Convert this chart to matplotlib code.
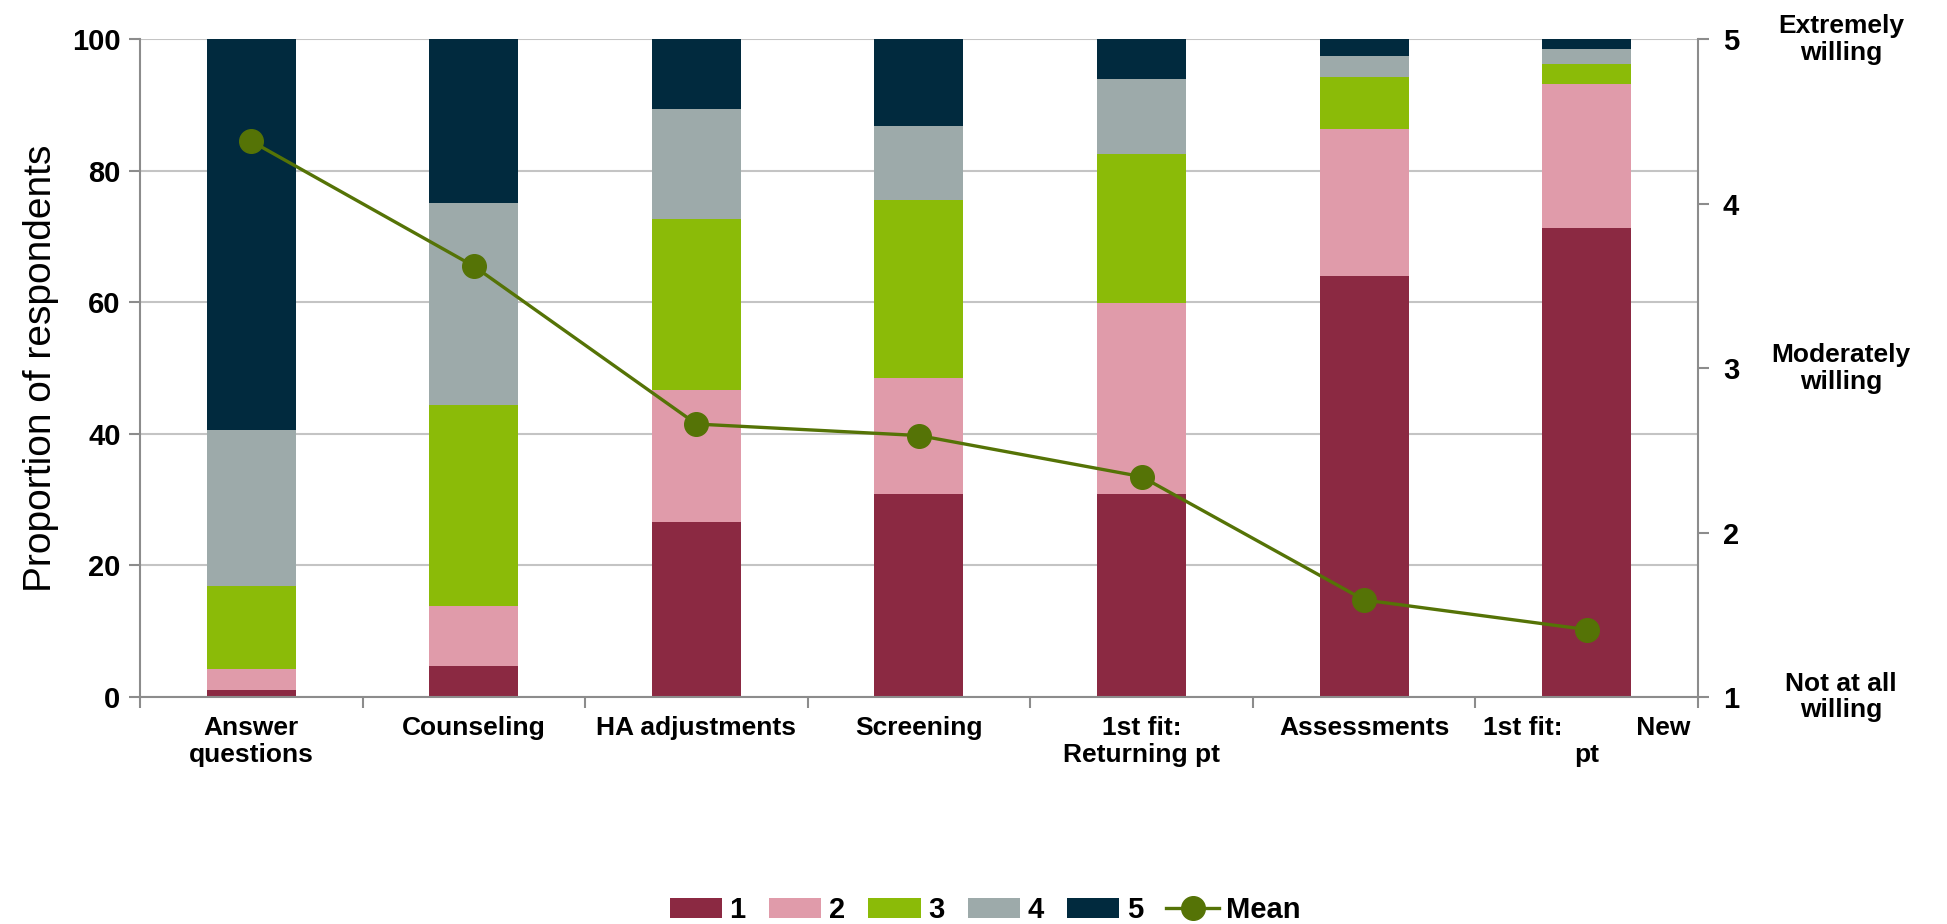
import numpy as np
import matplotlib
matplotlib.use("Agg")
import matplotlib.pyplot as plt
from matplotlib.lines import Line2D
from matplotlib.patches import Patch

plt.rcParams['font.family'] = ['Liberation Sans', 'DejaVu Sans']

tasks = ['Answer\nquestions', 'Counseling', 'HA adjustments', 'Screening',
         '1st fit:\nReturning pt', 'Assessments', '1st fit:          New\npt']

# share of respondents (%) giving each willingness rating
r1 = [1.1, 4.7, 26.6, 30.9, 30.9, 64.0, 71.3]
r2 = [3.1, 9.1, 20.1, 17.6, 29.0, 22.3, 21.9]
r3 = [12.7, 30.6, 25.9, 27.0, 22.6, 7.9, 3.1]
r4 = [23.7, 30.7, 16.8, 11.3, 11.4, 3.3, 2.2]
r5 = [59.4, 24.9, 10.6, 13.2, 6.1, 2.5, 1.5]
mean_rating = [4.38, 3.62, 2.66, 2.59, 2.34, 1.59, 1.41]

ratings = [r1, r2, r3, r4, r5]
colors = ['#8b2942', '#e09baa', '#8bbb08', '#9daaaa', '#012a3e']
line_color = '#557306'
axis_grey = '#8c8c8c'

fig = plt.figure(figsize=(19.47, 9.24), dpi=100)
ax = fig.add_axes([0.0719, 0.2457, 0.8002, 0.7118])

x = np.arange(len(tasks))
bottom = np.zeros(len(tasks))
for vals, c in zip(ratings, colors):
    ax.bar(x, vals, width=0.4, bottom=bottom, color=c, zorder=2)
    bottom += np.array(vals)

ax.set_xlim(-0.5, len(tasks) - 0.5)
ax.set_ylim(0, 100)
ax.set_yticks(range(0, 101, 20))
ax.yaxis.grid(True, color='#c4c4c4', linewidth=1.5, zorder=0)
ax.set_axisbelow(True)

# tick marks sit between categories, labels under each bar
ax.set_xticks(np.arange(-0.5, len(tasks), 1.0))
ax.set_xticklabels([])
ax.set_xticks(x, minor=True)
ax.set_xticklabels(tasks, minor=True, fontsize=19, fontweight='bold',
                   va='top', linespacing=1.15)
ax.tick_params(axis='x', which='minor', length=0, pad=14)
ax.tick_params(axis='x', which='major', length=8, width=1.5, color=axis_grey)
ax.tick_params(axis='y', length=8, width=1.5, color=axis_grey, labelsize=21, pad=6)
for lbl in ax.get_yticklabels():
    lbl.set_fontweight('bold')

for side in ['top', 'right']:
    ax.spines[side].set_visible(False)
for side in ['left', 'bottom']:
    ax.spines[side].set_color(axis_grey)
    ax.spines[side].set_linewidth(1.5)

fig.text(41 / 1947, 0.5 * (0.2457 + 0.9575), 'Proportion of respondents',
         rotation=90, ha='center', va='center', fontsize=28)

ax2 = ax.twinx()
ax2.plot(x, mean_rating, color=line_color, linewidth=2.4, marker='o',
         markersize=17, zorder=5)
ax2.set_ylim(1, 5)
ax2.set_yticks([1, 2, 3, 4, 5])
ax2.tick_params(axis='y', length=8, width=1.5, color=axis_grey, labelsize=21, pad=10)
for lbl in ax2.get_yticklabels():
    lbl.set_fontweight('bold')
for side in ['top', 'left', 'bottom']:
    ax2.spines[side].set_visible(False)
ax2.spines['right'].set_color(axis_grey)
ax2.spines['right'].set_linewidth(1.5)

scale_names = {5: 'Extremely\nwilling', 3: 'Moderately\nwilling', 1: 'Not at all\nwilling'}
for level, name in scale_names.items():
    ax2.text(1.0918, level, name, transform=ax2.get_yaxis_transform(),
             ha='center', va='center', fontsize=19, fontweight='bold',
             linespacing=1.15)

handles = [Patch(facecolor=c, edgecolor='none') for c in colors]
handles.append(Line2D([0], [0], color=line_color, linewidth=2.4, marker='o',
                      markersize=17))
labels = ['1', '2', '3', '4', '5', 'Mean']
fig.legend(handles, labels, loc='center', bbox_to_anchor=(0.506, 0.015),
           ncol=6, frameon=False, handlelength=1.8, handleheight=0.7,
           handletextpad=0.25, columnspacing=0.8,
           prop={'size': 21, 'weight': 'bold'})

fig.savefig('out.png', dpi=100, facecolor='white')
